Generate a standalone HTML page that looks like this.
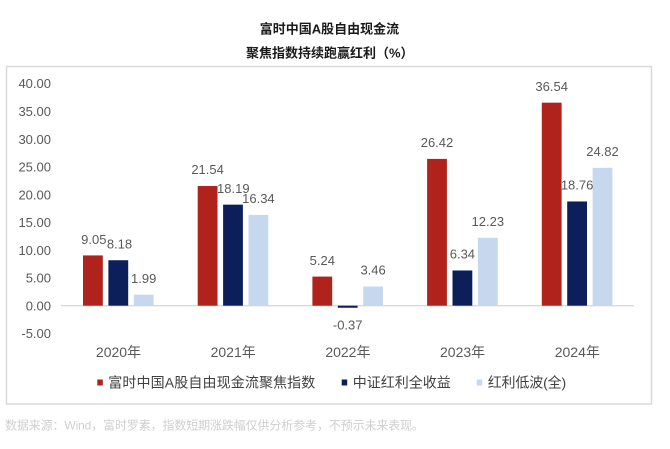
<!DOCTYPE html>
<html><head><meta charset="utf-8">
<style>
html,body{margin:0;padding:0;background:#fff;}
svg{display:block;}
text{font-family:"Liberation Sans","Noto Sans CJK SC",sans-serif;}
</style></head>
<body>
<svg width="670" height="449" viewBox="0 0 670 449" xmlns="http://www.w3.org/2000/svg">
<rect x="0" y="0" width="670" height="449" fill="#fff"/>
<!-- title -->
<text x="329.5" y="33.7" font-size="13" font-weight="bold" fill="#1a1a1a" text-anchor="middle">富时中国A股自由现金流</text>
<text x="246" y="57.4" font-size="13" font-weight="bold" fill="#1a1a1a">聚焦指数持续跑赢红利（%）</text>
<!-- box -->
<rect x="6.5" y="66.5" width="645" height="337.5" fill="none" stroke="#d9d9d9" stroke-width="1.5"/>
<!-- y axis labels -->
<g font-size="13" fill="#595959" text-anchor="end">
<text x="51" y="88.2">40.00</text>
<text x="51" y="116">35.00</text>
<text x="51" y="143.8">30.00</text>
<text x="51" y="171.5">25.00</text>
<text x="51" y="199.3">20.00</text>
<text x="51" y="227.1">15.00</text>
<text x="51" y="254.9">10.00</text>
<text x="51" y="282.6">5.00</text>
<text x="51" y="310.4">0.00</text>
<text x="51" y="338.2">-5.00</text>
</g>
<!-- zero line -->
<line x1="61" y1="305.7" x2="634" y2="305.7" stroke="#d9d9d9" stroke-width="1.3"/>
<!-- bars -->
<g>
<rect x="83" y="255.42" width="19.8" height="50.28" fill="#b0221c"/>
<rect x="108.4" y="260.25" width="19.8" height="45.45" fill="#0d1f5a"/>
<rect x="133.8" y="294.64" width="19.8" height="11.06" fill="#c6d8ee"/>

<rect x="197.7" y="186.03" width="19.8" height="119.67" fill="#b0221c"/>
<rect x="223.1" y="204.64" width="19.8" height="101.06" fill="#0d1f5a"/>
<rect x="248.5" y="214.92" width="19.8" height="90.78" fill="#c6d8ee"/>

<rect x="312.4" y="276.59" width="19.8" height="29.11" fill="#b0221c"/>
<rect x="337.8" y="305.7" width="19.8" height="2.06" fill="#0d1f5a"/>
<rect x="363.2" y="286.48" width="19.8" height="19.22" fill="#c6d8ee"/>

<rect x="427.1" y="158.91" width="19.8" height="146.79" fill="#b0221c"/>
<rect x="452.5" y="270.48" width="19.8" height="35.22" fill="#0d1f5a"/>
<rect x="477.9" y="237.75" width="19.8" height="67.95" fill="#c6d8ee"/>

<rect x="541.8" y="102.69" width="19.8" height="203.01" fill="#b0221c"/>
<rect x="567.2" y="201.47" width="19.8" height="104.23" fill="#0d1f5a"/>
<rect x="592.6" y="167.8" width="19.8" height="137.9" fill="#c6d8ee"/>
</g>
<!-- value labels -->
<g font-size="13" fill="#595959" text-anchor="middle">
<text x="93.8" y="244.2">9.05</text>
<text x="119.5" y="248.5">8.18</text>
<text x="143.7" y="282.8">1.99</text>

<text x="207.6" y="174.2">21.54</text>
<text x="233.3" y="192.8">18.19</text>
<text x="258.4" y="203.1">16.34</text>

<text x="322.3" y="264.8">5.24</text>
<text x="347.7" y="329.7">-0.37</text>
<text x="373.1" y="274.7">3.46</text>

<text x="437" y="147.1">26.42</text>
<text x="462.4" y="258.7">6.34</text>
<text x="487.8" y="226">12.23</text>

<text x="551.7" y="90.9">36.54</text>
<text x="577.1" y="189.7">18.76</text>
<text x="602.5" y="156">24.82</text>
</g>
<!-- category labels -->
<g font-size="14" fill="#595959" text-anchor="middle">
<text x="118.5" y="357">2020年</text>
<text x="233.2" y="357">2021年</text>
<text x="347.9" y="357">2022年</text>
<text x="462.6" y="357">2023年</text>
<text x="577.3" y="357">2024年</text>
</g>
<!-- legend -->
<rect x="97.3" y="379.5" width="5.5" height="6" fill="#b0221c"/>
<text x="108.3" y="387.6" font-size="14" fill="#404040" textLength="207" lengthAdjust="spacing">富时中国A股自由现金流聚焦指数</text>
<rect x="341.7" y="379.5" width="5.5" height="6" fill="#0d1f5a"/>
<text x="352.7" y="387.6" font-size="14" fill="#404040" textLength="98" lengthAdjust="spacing">中证红利全收益</text>
<rect x="476.7" y="379.5" width="5.5" height="6" fill="#c6d8ee"/>
<text x="487.7" y="387.6" font-size="14" fill="#404040" textLength="78.5" lengthAdjust="spacing">红利低波(全)</text>
<!-- footer -->
<text x="5" y="429.3" font-size="12" fill="#cfcfcf" textLength="419" lengthAdjust="spacing">数据来源：Wind，富时罗素，指数短期涨跌幅仅供分析参考，不预示未来表现。</text>
</svg>
</body></html>
